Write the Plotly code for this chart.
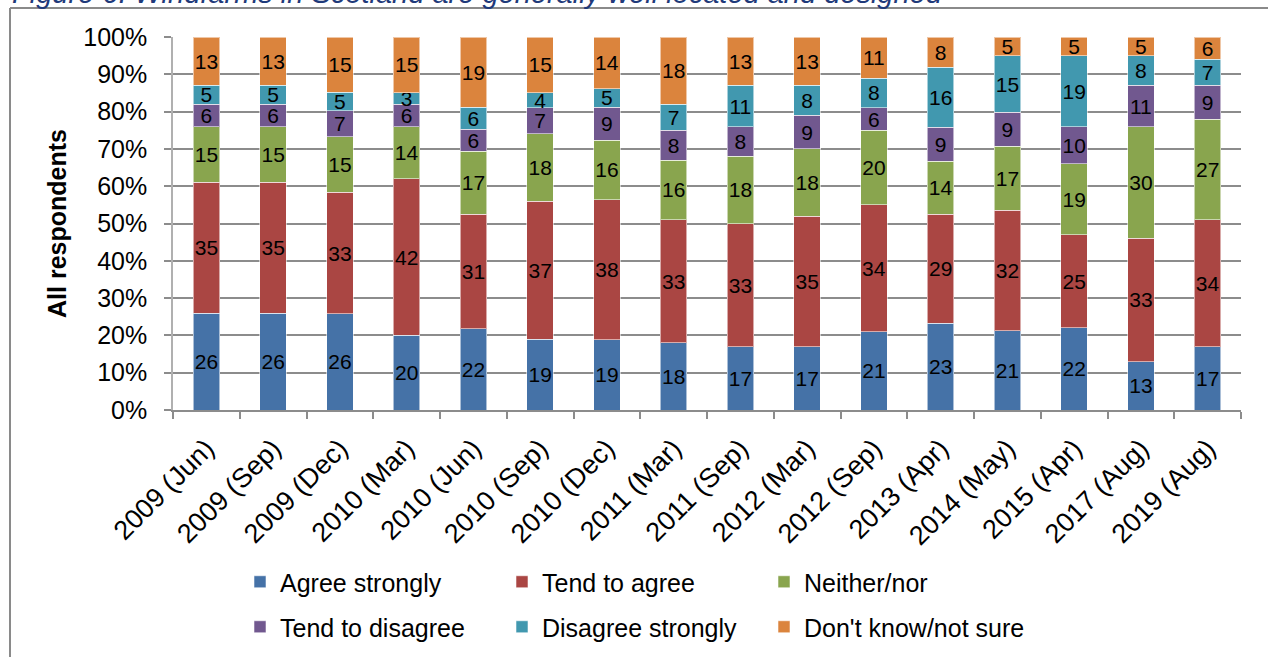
import plotly.graph_objects as go

# Survey waves
waves = [
    "2009 (Jun)", "2009 (Sep)", "2009 (Dec)", "2010 (Mar)", "2010 (Jun)",
    "2010 (Sep)", "2010 (Dec)", "2011 (Mar)", "2011 (Sep)", "2012 (Mar)",
    "2012 (Sep)", "2013 (Apr)", "2014 (May)", "2015 (Apr)", "2017 (Aug)",
    "2019 (Aug)",
]

# Response shares (%) per wave
agree_strongly = [26, 26, 26, 20, 22, 19, 19, 18, 17, 17, 21, 23, 21, 22, 13, 17]
tend_to_agree = [35, 35, 33, 42, 31, 37, 38, 33, 33, 35, 34, 29, 32, 25, 33, 34]
neither_nor = [15, 15, 15, 14, 17, 18, 16, 16, 18, 18, 20, 14, 17, 19, 30, 27]
tend_to_disagree = [6, 6, 7, 6, 6, 7, 9, 8, 8, 9, 6, 9, 9, 10, 11, 9]
disagree_strongly = [5, 5, 5, 3, 6, 4, 5, 7, 11, 8, 8, 16, 15, 19, 8, 7]
dont_know = [13, 13, 15, 15, 19, 15, 14, 18, 13, 13, 11, 8, 5, 5, 5, 6]

series = [
    ("Agree strongly", agree_strongly, "#4572A7", "legend"),
    ("Tend to agree", tend_to_agree, "#AA4643", "legend"),
    ("Neither/nor", neither_nor, "#89A54E", "legend"),
    ("Tend to disagree", tend_to_disagree, "#71588F", "legend2"),
    ("Disagree strongly", disagree_strongly, "#4198AF", "legend2"),
    ("Don't know/not sure", dont_know, "#DB843D", "legend2"),
]

FONT = "Arial, 'Liberation Sans', sans-serif"
GRID = "#8c8c8c"

W, H = 1268, 657
L, R, T, B = 173, 27, 37, 247
PW = W - L - R
PH = H - T - B


def px_x(x):
    return (x - L) / PW


def px_y(y):
    return (H - B - y) / PH


fig = go.Figure()
for name, vals, color, leg in series:
    fig.add_trace(go.Bar(
        x=waves, y=vals, name=name,
        marker=dict(color=color, line=dict(color="rgba(255,255,255,0.55)", width=1)),
        text=[str(v) for v in vals],
        textposition="inside",
        insidetextanchor="middle",
        textangle=0,
        textfont=dict(family=FONT, size=21, color="black"),
        legend=leg,
        hoverinfo="name+y",
    ))

legend_common = dict(
    orientation="h", xanchor="left", yanchor="middle",
    entrywidth=217, entrywidthmode="pixels",
    font=dict(family=FONT, size=25, color="black"),
    traceorder="normal", bgcolor="rgba(0,0,0,0)",
)

fig.update_layout(
    width=W, height=H,
    margin=dict(l=L, r=R, t=T, b=B, autoexpand=False),
    barmode="stack",
    barnorm="percent",
    bargap=0.6,
    paper_bgcolor="white",
    plot_bgcolor="white",
    font=dict(family=FONT, color="black"),
    uniformtext=dict(minsize=21, mode="show"),
    legend=dict(x=px_x(240), y=px_y(582), **legend_common),
    legend2=dict(x=px_x(240), y=px_y(627), **legend_common),
    showlegend=True,
)

fig.update_yaxes(
    range=[0, 100], dtick=10, ticksuffix="%",
    automargin=False,
    showgrid=True, gridcolor=GRID, gridwidth=1.5,
    zeroline=False,
    showline=True, linecolor="#b0b0b0", linewidth=1.5,
    ticks="outside", ticklen=7, tickcolor=GRID, tickwidth=1.5,
    ticklabelstandoff=12,
    tickfont=dict(family=FONT, size=25, color="black"),
    title=dict(text="<b>All respondents</b>", font=dict(family=FONT, size=25, color="black"), standoff=10),
    fixedrange=True,
)

fig.update_xaxes(
    tickangle=-45,
    automargin=False,
    showline=True, linecolor=GRID, linewidth=1.5,
    ticks="outside", tickson="boundaries", ticklen=7, tickcolor=GRID, tickwidth=1.5,
    ticklabelstandoff=10,
    tickfont=dict(family=FONT, size=27, color="black"),
    showgrid=False,
    fixedrange=True,
)

# Figure heading, sitting above the chart frame
fig.add_annotation(
    text="<i>Figure 6: Windfarms in Scotland are generally well located and designed</i>",
    xref="paper", yref="paper", x=px_x(10), y=px_y(11),
    xanchor="left", yanchor="bottom", showarrow=False,
    font=dict(family=FONT, size=29, color="#1F3A7A"),
)

# Chart frame (left and top edges)
fig.add_shape(type="line", xref="paper", yref="paper",
              x0=px_x(10), x1=px_x(10), y0=px_y(8), y1=px_y(H + 5),
              line=dict(color="#8a8a8a", width=2))
fig.add_shape(type="line", xref="paper", yref="paper",
              x0=px_x(10), x1=px_x(W + 5), y0=px_y(8), y1=px_y(8),
              line=dict(color="#8a8a8a", width=2))

fig.write_html("out.html")
